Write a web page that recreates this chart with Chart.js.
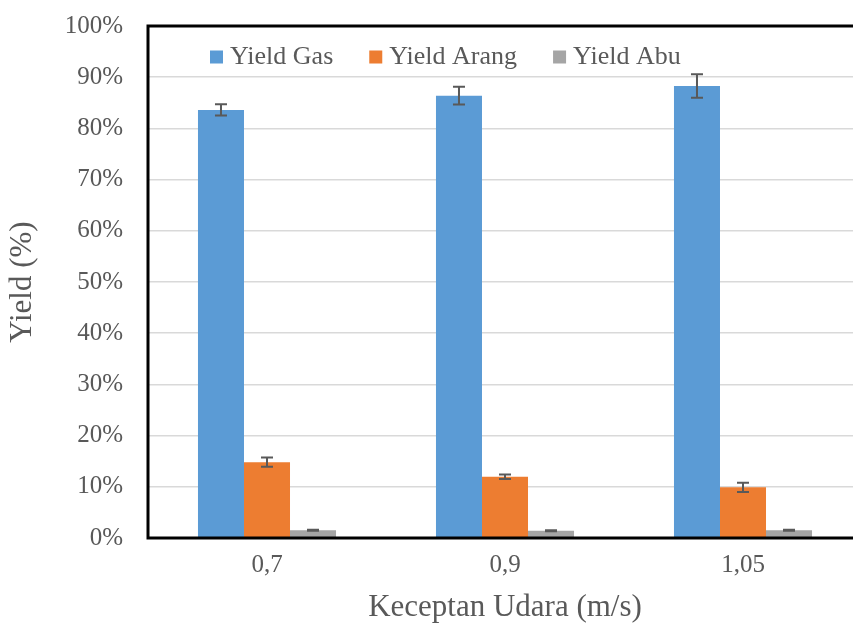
<!DOCTYPE html>
<html>
<head>
<meta charset="utf-8">
<script src="https://cdn.jsdelivr.net/npm/chart.js@4.4.1/dist/chart.umd.min.js"></script>
<style>
  html, body { margin: 0; padding: 0; background: #fff; overflow: hidden; }
  #wrap { width: 880px; height: 630px; }
</style>
</head>
<body>
<div id="wrap"><canvas id="yieldChart" width="880" height="630"></canvas></div>
<script>
// Data
const categories = ['0,7', '0,9', '1,05'];
const yieldGas = [83.6, 86.4, 88.3];
const yieldArang = [14.8, 11.95, 9.9];
const yieldAbu = [1.5, 1.4, 1.5];
const errGas = [1.1, 1.75, 2.3];
const errArang = [0.9, 0.45, 0.9];
const errAbu = [0.1, 0.1, 0.1];

const FONT = "'Liberation Serif', 'Times New Roman', serif";
const TEXT = '#595959';
Chart.defaults.font.family = FONT;

// error bars drawn from the y scale
const errorBars = {
  id: 'errorBars',
  afterDatasetsDraw(chart) {
    const ctx = chart.ctx;
    const y = chart.scales.y;
    ctx.save();
    ctx.strokeStyle = '#595959';
    ctx.lineWidth = 2;
    chart.data.datasets.forEach((ds, i) => {
      const meta = chart.getDatasetMeta(i);
      meta.data.forEach((bar, j) => {
        const v = ds.data[j], e = ds.errors[j];
        const top = y.getPixelForValue(v + e);
        const bot = y.getPixelForValue(v - e);
        ctx.beginPath();
        ctx.moveTo(bar.x, top); ctx.lineTo(bar.x, bot);
        ctx.moveTo(bar.x - 6, top); ctx.lineTo(bar.x + 6, top);
        ctx.moveTo(bar.x - 6, bot); ctx.lineTo(bar.x + 6, bot);
        ctx.stroke();
      });
    });
    ctx.restore();
  }
};

// legend inside the plot area, one row, like the Excel original
const innerLegend = {
  id: 'innerLegend',
  afterDraw(chart) {
    const ctx = chart.ctx;
    const a = chart.chartArea;
    let x = a.left + 62;
    const cy = a.top + 31;
    ctx.save();
    ctx.font = '26px ' + FONT;
    ctx.textBaseline = 'middle';
    chart.data.datasets.forEach(ds => {
      ctx.fillStyle = ds.backgroundColor;
      ctx.fillRect(x, cy - 6.5, 13, 13);
      x += 13 + 7;
      ctx.fillStyle = TEXT;
      ctx.fillText(ds.label, x, cy);
      x += ctx.measureText(ds.label).width + 36;
    });
    ctx.restore();
  }
};

// black frame around the plot area
const frame = {
  id: 'frame',
  afterDraw(chart) {
    const a = chart.chartArea;
    const ctx = chart.ctx;
    ctx.save();
    ctx.strokeStyle = '#000';
    ctx.lineWidth = 3;
    ctx.strokeRect(a.left, a.top, a.right - a.left, a.bottom - a.top);
    ctx.restore();
  }
};

new Chart(document.getElementById('yieldChart'), {
  type: 'bar',
  data: {
    labels: categories,
    datasets: [
      { label: 'Yield Gas', data: yieldGas, errors: errGas, backgroundColor: '#5B9BD5' },
      { label: 'Yield Arang', data: yieldArang, errors: errArang, backgroundColor: '#ED7D31' },
      { label: 'Yield Abu', data: yieldAbu, errors: errAbu, backgroundColor: '#A5A5A5' }
    ]
  },
  options: {
    responsive: false,
    animation: false,
    devicePixelRatio: 1,
    layout: { padding: { top: 26, right: 18, left: 0, bottom: 0 } },
    datasets: { bar: { categoryPercentage: 0.58, barPercentage: 1 } },
    plugins: {
      tooltip: { enabled: false },
      legend: { display: false }
    },
    scales: {
      x: {
        grid: { display: false, drawTicks: false },
        border: { display: false },
        ticks: { color: TEXT, font: { family: FONT, size: 25 }, padding: 12 },
        title: {
          display: true, text: 'Keceptan Udara (m/s)', color: TEXT,
          font: { family: FONT, size: 31 }, padding: { top: 0, bottom: 4 }
        },
        afterFit(scale) { scale.height = 92; }
      },
      y: {
        min: 0, max: 100,
        grid: { color: '#d9d9d9', lineWidth: 1.5, drawTicks: false },
        border: { display: false },
        ticks: {
          stepSize: 10, color: TEXT, padding: 25,
          font: { family: FONT, size: 25 },
          callback: v => v + '%'
        },
        title: {
          display: true, text: 'Yield (%)', color: TEXT,
          font: { family: FONT, size: 31 }, padding: { top: 4, bottom: 0 }
        },
        afterFit(scale) {
          scale.width = 148;
          scale.paddingTop = 0;
          scale.paddingBottom = 0;
        }
      }
    }
  },
  plugins: [errorBars, innerLegend, frame]
});
</script>
</body>
</html>
